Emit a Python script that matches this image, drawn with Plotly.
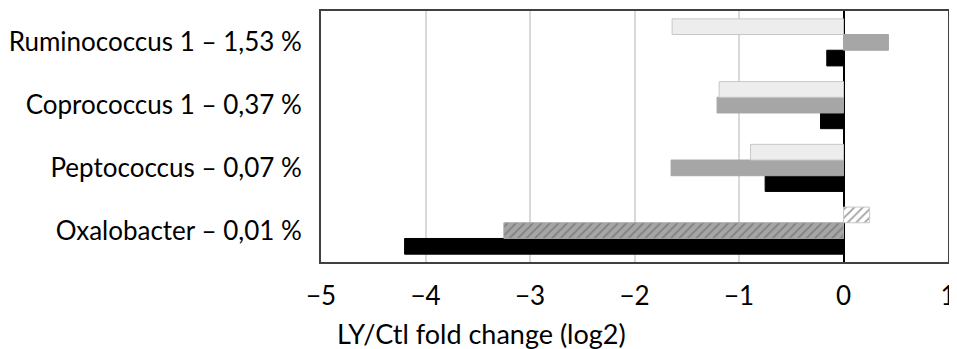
import plotly.graph_objects as go

# categories listed bottom-to-top
categories = ["Oxalobacter – 0,01 %", "Peptococcus – 0,07 %", "Coprococcus 1 – 0,37 %", "Ruminococcus 1 – 1,53 %"]
series_light = [0.25, -0.89, -1.19, -1.64]
series_mid = [-3.25, -1.65, -1.21, 0.43]
series_black = [-4.2, -0.75, -0.22, -0.16]
hatched = [True, False, False, False]
x_ticks = [-5, -4, -3, -2, -1, 0, 1]

FONT = "Lato"
FS = 26

fig = go.Figure()
fig.add_trace(go.Bar(
    y=categories, x=series_black, orientation="h", name="black",
    marker=dict(color="#000000", line=dict(color="#000000", width=1)),
))
fig.add_trace(go.Bar(
    y=categories, x=series_mid, orientation="h", name="mid",
    marker=dict(
        color="#a6a6a6",
        line=dict(color="#a6a6a6", width=1),
        pattern=dict(shape=["/" if h else "" for h in hatched],
                     fgcolor="#595959", bgcolor="#a6a6a6", size=6, solidity=0.3),
    ),
))
fig.add_trace(go.Bar(
    y=categories, x=series_light, orientation="h", name="light",
    marker=dict(
        color=["#ffffff" if h else "#ededed" for h in hatched],
        line=dict(color="#c8c8c8", width=1),
        pattern=dict(shape=["/" if h else "" for h in hatched],
                     fgcolor="#8c8c8c", bgcolor="#ffffff", size=6, solidity=0.3),
    ),
))

fig.update_layout(
    width=949, height=341,
    margin=dict(l=312, r=7, t=1, b=87),
    barmode="group", bargap=0.25, bargroupgap=0,
    plot_bgcolor="#ffffff", paper_bgcolor="#ffffff",
    showlegend=False,
    font=dict(family=FONT, size=FS, color="#000000"),
    xaxis=dict(
        range=[-5, 1], tickvals=x_ticks, showgrid=True, gridcolor="#d9d9d9", gridwidth=1.5,
        zeroline=True, zerolinecolor="#000000", zerolinewidth=2,
        showline=True, linecolor="#404040", linewidth=2, mirror=True,
        ticks="outside", ticklen=10, tickcolor="rgba(0,0,0,0)",
        tickfont=dict(size=FS, family=FONT), fixedrange=True,
        ticklabeloverflow="allow",
    ),
    yaxis=dict(
        categoryorder="array", categoryarray=categories,
        showline=True, linecolor="#404040", linewidth=2, mirror=True,
        ticks="outside", ticklen=12, tickcolor="rgba(0,0,0,0)",
        tickfont=dict(size=FS, family=FONT),
    ),
    annotations=[dict(
        text="LY/Ctl fold change (log2)", xref="paper", yref="paper",
        x=0.0, y=0, xanchor="left", yanchor="top", xshift=14, yshift=-53,
        showarrow=False, font=dict(size=FS + 1, family=FONT),
    )],
)

fig.write_html("out.html")
